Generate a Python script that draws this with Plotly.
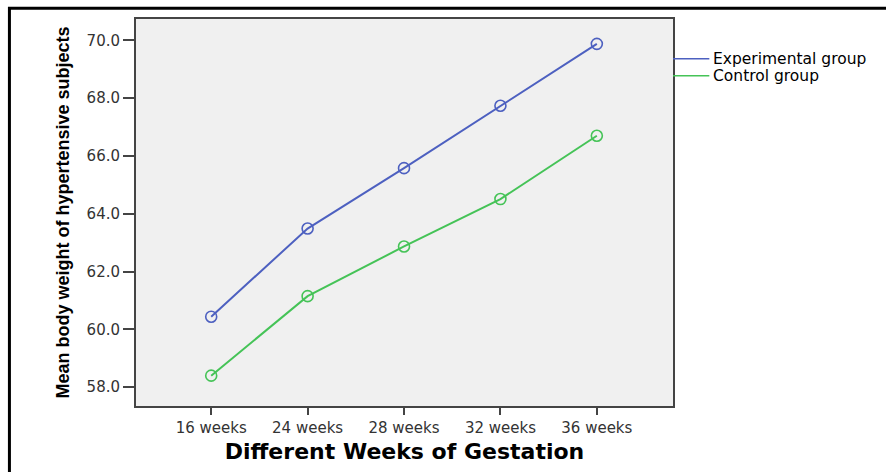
import plotly.graph_objects as go

weeks = ["16 weeks", "24 weeks", "28 weeks", "32 weeks", "36 weeks"]
experimental = [60.44, 63.49, 65.58, 67.74, 69.88]
control = [58.40, 61.15, 62.87, 64.51, 66.70]
y_ticks = [58, 60, 62, 64, 66, 68, 70]
series_names = ["Experimental group", "Control group"]

BLUE = "#4d60c0"
GREEN = "#45c357"

fig = go.Figure()
for name, vals, col in [(series_names[0], experimental, BLUE), (series_names[1], control, GREEN)]:
    fig.add_trace(go.Scatter(
        x=weeks, y=vals, name=name, mode="lines+markers",
        line=dict(color=col, width=2),
        marker=dict(symbol="circle-open", size=11, color=col, line=dict(width=1.6, color=col)),
        showlegend=False,
    ))

tick_font = dict(family="DejaVu Sans", size=15, color="#333333")

fig.update_layout(
    width=886, height=472,
    margin=dict(l=136, r=213, t=19, b=66),
    paper_bgcolor="white",
    plot_bgcolor="#f0f0f0",
    xaxis=dict(
        type="category", range=[-0.78, 4.79],
        showgrid=False, zeroline=False,
        showline=True, mirror=True, linecolor="#444444", linewidth=2,
        ticks="outside", ticklen=7, tickwidth=2, tickcolor="#444444",
        tickfont=tick_font,
        title=dict(text="<b>Different Weeks of Gestation</b>",
                   font=dict(family="DejaVu Sans", size=22, color="black"), standoff=8),
    ),
    yaxis=dict(
        range=[57.35, 70.74],
        tickvals=y_ticks, tickformat=".1f",
        showgrid=False, zeroline=False,
        showline=True, mirror=True, linecolor="#444444", linewidth=2,
        ticks="outside", ticklen=11, tickwidth=2, tickcolor="#444444",
        tickfont=tick_font,
        title=dict(text="<b>Mean body weight of hypertensive subjects</b>",
                   font=dict(family="Liberation Sans, Arial, sans-serif", size=18, color="black"),
                   standoff=12),
    ),
)

# manual legend (lines + labels) to the right of plot
leg_y = [1 - (59 - 19.3) / 386.7, 1 - (76 - 19.3) / 386.7]
x0 = 1.0
x1 = (709 - 136) / 536.7
for name, col, yy in [(series_names[0], BLUE, leg_y[0]), (series_names[1], GREEN, leg_y[1])]:
    fig.add_shape(type="line", xref="paper", yref="paper", x0=x0, x1=x1, y0=yy, y1=yy,
                  line=dict(color=col, width=1.5))
    fig.add_annotation(xref="paper", yref="paper", x=(711 - 136) / 536.7, y=yy, text=name,
                       showarrow=False, xanchor="left", yanchor="middle",
                       font=dict(family="DejaVu Sans", size=15.5, color="black"))

# outer black frame
fig.add_shape(type="rect", xref="paper", yref="paper",
              x0=(9.5 - 136) / 536.7, x1=1.6, y0=-0.3, y1=1 + (19.3 - 8.5) / 386.7,
              line=dict(color="black", width=3), fillcolor="rgba(0,0,0,0)", layer="above")

fig.write_html("out.html", config={"displayModeBar": False},
               post_script="document.body.style.margin='0px';")
